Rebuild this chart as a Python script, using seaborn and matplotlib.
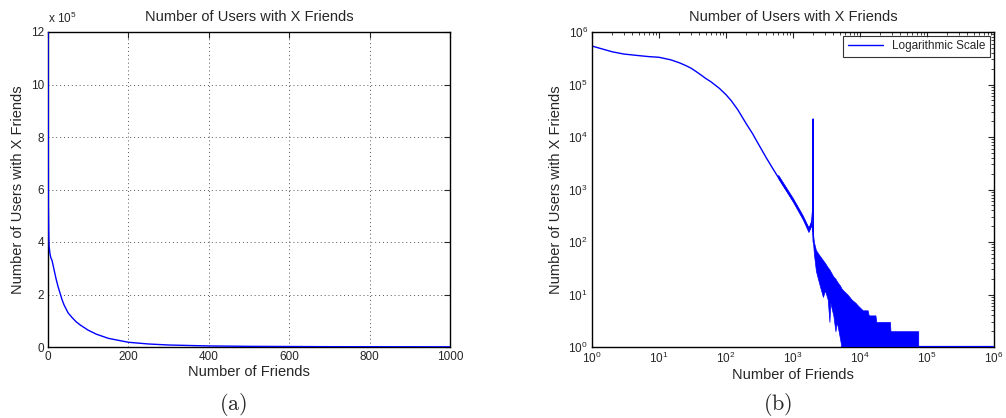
import numpy as np
import pandas as pd
import matplotlib
matplotlib.use("Agg")
import matplotlib.pyplot as plt
import seaborn as sns
from matplotlib.ticker import FuncFormatter, LogLocator, NullFormatter

# ---- data ----
degree = [0, 1, 2, 3, 5, 7, 10, 15, 20, 25, 30, 35, 40, 50, 60, 70, 80, 100,
          120, 150, 200, 250, 300, 400, 500, 700, 1000, 1300, 1600, 1750,
          1900, 1990, 2000, 2010]
users = [1.5e6, 5.4e5, 4.2e5, 3.8e5, 3.55e5, 3.4e5, 3.3e5, 2.95e5, 2.6e5,
         2.3e5, 2.05e5, 1.8e5, 1.6e5, 1.3e5, 1.12e5, 9.6e4, 8.4e4, 6.4e4,
         4.9e4, 3.3e4, 1.8e4, 1.15e4, 7.6e3, 4.0e3, 2.5e3, 1.25e3, 630, 350,
         210, 170, 240, 450, 2.2e4, 100]

# noisy part: upper / lower envelope of the oscillating curve
tail_degree = [600, 1000, 1400, 1700, 1900, 2050, 2200, 2500, 2800, 3000,
               3300, 3500, 3600, 4000, 4300, 4500, 4800, 5000, 5300, 5600,
               6500, 7500, 8500, 9500, 11000, 13000, 13500, 17000, 17500,
               28000, 28500, 74000]
tail_high = [1900, 680, 320, 190, 255, 100, 70, 55, 45, 40, 33, 30, 28, 22,
             20, 18, 16, 15, 13, 12, 10, 8, 7, 6, 5, 5, 4, 4, 3, 3, 2, 2]
tail_low = [1650, 580, 270, 155, 210, 60, 28, 15, 9, 12, 8, 3, 7, 4, 2, 3, 2,
            1.5, 1, 1, 1, 1, 1, 1, 1, 1, 1, 1, 1, 1, 1, 1]

base_degree = [5300, 950000]
base_users = [1, 1]

title = "Number of Users with X Friends"
xlabel = "Number of Friends"
ylabel = "Number of Users with X Friends"
legend_label = "Logarithmic Scale"
captions = [r"$\mathrm{(a)}$", r"$\mathrm{(b)}$"]

# ---- style ----
sns.set_style("white")
plt.rcParams["font.family"] = ["Liberation Sans", "DejaVu Sans"]
plt.rcParams["mathtext.fontset"] = "custom"
plt.rcParams["mathtext.rm"] = "Liberation Sans"
plt.rcParams["mathtext.it"] = "Liberation Sans:italic"
plt.rcParams["mathtext.bf"] = "Liberation Sans:bold"

fig = plt.figure(figsize=(10.06, 4.18), dpi=100)
ax1 = fig.add_axes([48 / 1006, 71 / 418, 402 / 1006, 315 / 418])
ax2 = fig.add_axes([592 / 1006, 71 / 418, 402 / 1006, 315 / 418])

blue = "#0000ff"
df = pd.DataFrame({"deg": degree, "users": users})

# ---- left: linear ----
sns.lineplot(data=df, x="deg", y="users", ax=ax1, color=blue, lw=1.0,
             estimator=None, sort=False, zorder=3)
ax1.set_xlim(0, 1000)
ax1.set_ylim(0, 12e5)
ax1.set_xticks([0, 200, 400, 600, 800, 1000])
ax1.set_yticks(np.arange(0, 13e5, 2e5))
ax1.yaxis.set_major_formatter(FuncFormatter(lambda v, p: f"{v / 1e5:g}"))
ax1.grid(True, linestyle=(0, (1, 3)), color="#555555", lw=0.7)
ax1.text(0, 1.02, r"x 10$^5$", transform=ax1.transAxes, ha="left",
         va="bottom", fontsize=8.5)

# ---- right: log-log ----
dfl = df[df["deg"] > 0]
ax2.fill_between(tail_degree, tail_low, tail_high, color=blue, lw=0.5,
                 edgecolor=blue)
sns.lineplot(data=dfl, x="deg", y="users", ax=ax2, color=blue, lw=1.0,
             estimator=None, sort=False, label=legend_label)
sns.lineplot(x=base_degree, y=base_users, ax=ax2, color=blue, lw=1.6,
             estimator=None, sort=False, zorder=3)
ax2.set_xscale("log")
ax2.set_yscale("log")
ax2.set_xlim(1, 1e6)
ax2.set_ylim(1, 1e6)
ax2.xaxis.set_major_locator(LogLocator(base=10, numticks=10))
ax2.yaxis.set_major_locator(LogLocator(base=10, numticks=10))
ax2.xaxis.set_minor_locator(LogLocator(base=10, subs=np.arange(2, 10), numticks=100))
ax2.yaxis.set_minor_locator(LogLocator(base=10, subs=np.arange(2, 10), numticks=100))
ax2.xaxis.set_minor_formatter(NullFormatter())
ax2.yaxis.set_minor_formatter(NullFormatter())
leg = ax2.legend(loc="upper right", fontsize=8.5, frameon=True, fancybox=False,
                 edgecolor="black", handlelength=3.0, borderpad=0.4,
                 borderaxespad=0.3)
leg.get_frame().set_linewidth(0.8)

for ax in (ax1, ax2):
    ax.set_title(title, fontsize=10.5, pad=8)
    ax.set_xlabel(xlabel, fontsize=10.5, labelpad=1)
    ax.set_ylabel(ylabel, fontsize=10.5, labelpad=4)
    ax.tick_params(which="major", direction="in", length=4, width=0.8,
                   top=True, right=True, labelsize=8.5, pad=3)
    ax.tick_params(which="minor", direction="in", length=2, width=0.6,
                   top=True, right=True)
    for s in ax.spines.values():
        s.set_visible(True)
        s.set_color("black")
        s.set_linewidth(1.0)

fig.text(233 / 1006, 1 - 404 / 418, captions[0], fontsize=16, ha="center",
         va="center", math_fontfamily="cm")
fig.text(778 / 1006, 1 - 404 / 418, captions[1], fontsize=16, ha="center",
         va="center", math_fontfamily="cm")

fig.savefig("out.png", dpi=100)
